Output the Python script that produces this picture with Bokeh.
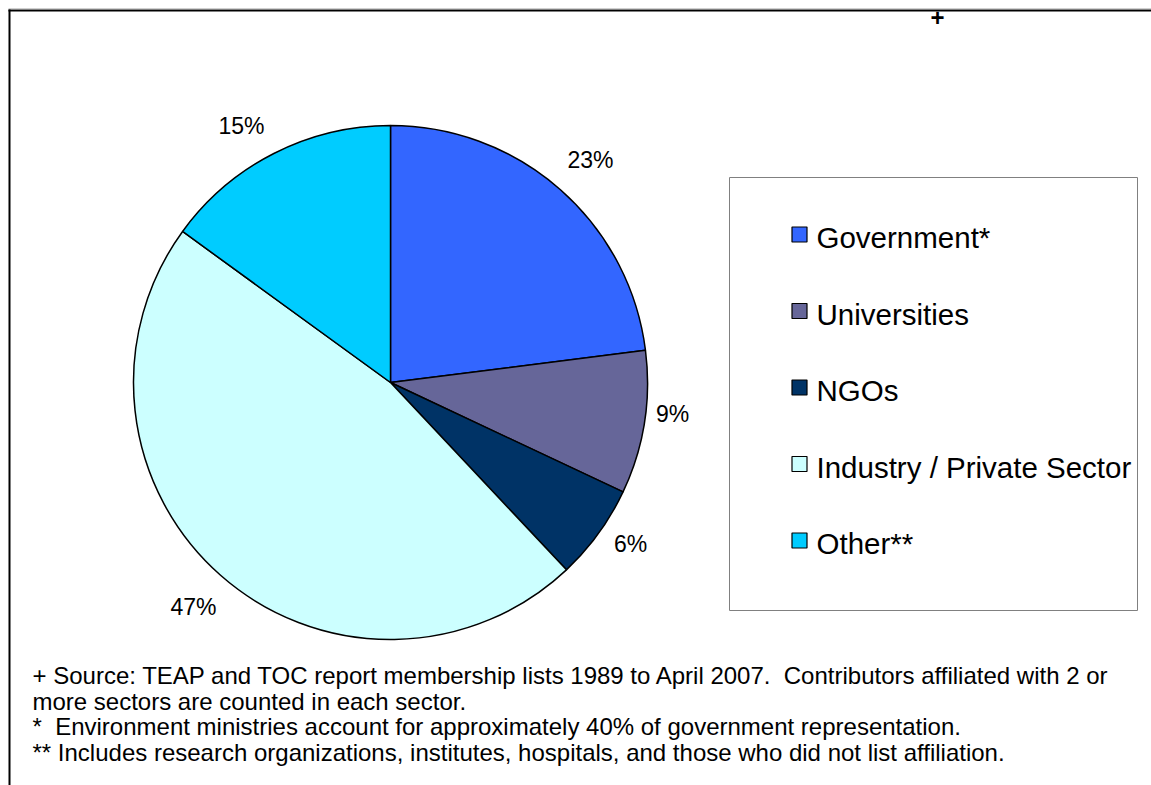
import math
from bokeh.plotting import figure
from bokeh.models import Range1d, ColumnDataSource
from bokeh.core.properties import value
from bokeh.embed import file_html
from bokeh.resources import INLINE

# ---- data ----
categories = ["Government*", "Universities", "NGOs", "Industry / Private Sector", "Other**"]
shares = [23, 9, 6, 47, 15]
pct_labels = ["23%", "9%", "6%", "47%", "15%"]
colors = ["#3366FF", "#666699", "#003366", "#CCFFFF", "#00CCFF"]
NB = "\u00a0"
footnotes = [
    "+ Source: TEAP and TOC report membership lists 1989 to April 2007." + NB + " Contributors affiliated with 2 or",
    "more sectors are counted in each sector.",
    "*" + NB + " Environment ministries account for approximately 40% of government representation.",
    "** Includes research organizations, institutes, hospitals, and those who did not list affiliation.",
]

FONT = value("Liberation Sans")
W, H = 1151, 785
TOP = 785  # data y = TOP - image_y


def Y(img_y):
    return TOP - img_y


p = figure(width=W, height=H, output_backend="svg", toolbar_location=None,
           x_range=Range1d(0, W), y_range=Range1d(0, H),
           x_axis_type=None, y_axis_type=None, min_border=0)
p.grid.visible = False
p.outline_line_color = None
p.background_fill_color = "white"

# outer frame (top and left edges visible)
p.segment(x0=[8], y0=[Y(8)], x1=[1151], y1=[Y(8)], line_color="#d0d0d0", line_width=1)
p.segment(x0=[8, 9], y0=[Y(10), Y(9)], x1=[1151, 9], y1=[Y(10), Y(785)],
          line_color="black", line_width=2)
p.text(x=[937], y=[Y(17)], text=["+"], text_font=FONT, text_font_size="24px",
       text_font_style="bold", text_align="center", text_baseline="middle")

# pie
total = float(sum(shares))
cx, cy, r = 390, Y(382), 257
starts, ends, cum = [], [], 0.0
for s in shares:
    starts.append(math.pi / 2 - 2 * math.pi * cum / total)
    cum += s
    ends.append(math.pi / 2 - 2 * math.pi * cum / total)
src = ColumnDataSource(dict(start=starts, end=ends, color=colors, cat=categories))
p.wedge(x=cx, y=cy, radius=r, start_angle="start", end_angle="end", direction="clock",
        fill_color="color", line_color="black", line_width=1.5, source=src)

# percent labels
lab_x = [590, 672, 630, 193, 241]
lab_y = [Y(v) for v in [159, 413, 543, 606, 125]]
p.text(x=lab_x, y=lab_y, text=pct_labels, text_font=FONT, text_font_size="23px",
       text_align="center", text_baseline="middle", text_color="black")

# legend box
p.quad(left=[729], right=[1137], top=[Y(177)], bottom=[Y(610)],
       fill_color="white", line_color="#808080", line_width=1)
leg_y = [237 + 76.5 * i for i in range(len(categories))]
p.rect(x=[799] * len(categories), y=[Y(v - 3) for v in leg_y], width=15, height=15,
       width_units="screen", height_units="screen",
       fill_color=colors, line_color="black", line_width=1.2)
p.text(x=[816] * len(categories), y=[Y(v) for v in leg_y], text=categories,
       text_font=FONT, text_font_size="29.5px", text_align="left", text_baseline="middle")

# footnotes
fn_y = [675, 700.5, 726, 751.5]
p.text(x=[32] * len(footnotes), y=[Y(v) for v in fn_y], text=footnotes,
       text_font=FONT, text_font_size="24px", text_align="left", text_baseline="middle")

open("out.html", "w").write(file_html(p, INLINE))
